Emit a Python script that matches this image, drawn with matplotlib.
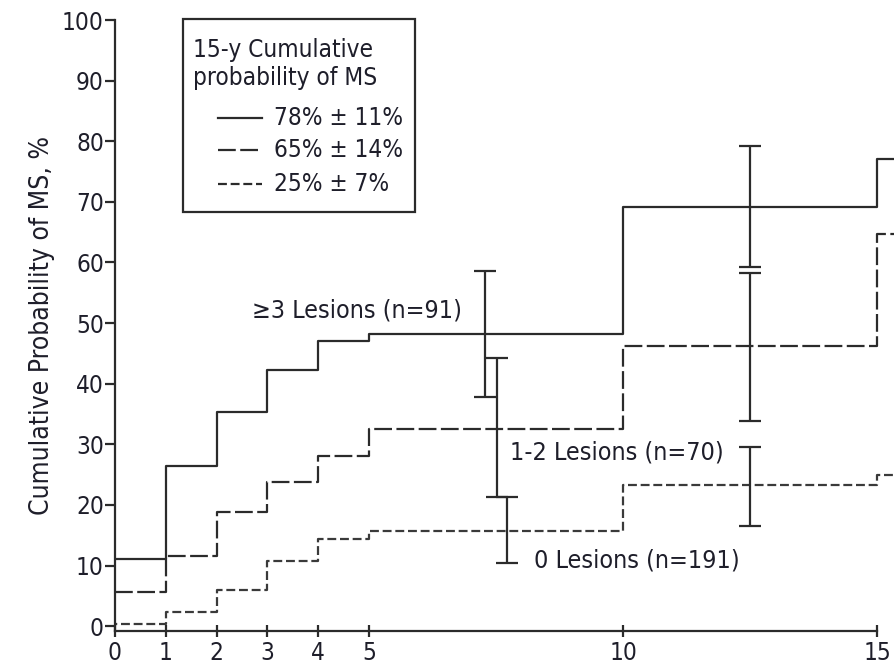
import numpy as np
import matplotlib
matplotlib.use("Agg")
import matplotlib.pyplot as plt
from matplotlib.patches import Rectangle

plt.rcParams['font.family'] = ['DejaVu Sans']
plt.rcParams['font.stretch'] = 'condensed'

# step curves (years, cumulative probability %)
years = [0, 1, 2, 3, 4, 5, 10, 15, 15.4]
les3 = [11.0, 26.5, 35.4, 42.2, 47.1, 48.2, 69.1, 77.1, 77.1]
les12 = [5.6, 11.6, 18.9, 23.7, 28.1, 32.5, 46.3, 64.7, 64.7]
les0 = [0.3, 2.4, 5.9, 10.7, 14.3, 15.7, 23.3, 24.9, 24.9]

# confidence bars
err3_x = [7.28, 12.5]
err3_y = [48.2, 69.1]
err3_lo = [37.8, 59.3]
err3_hi = [58.6, 79.2]

err12_x = [7.51, 12.5]
err12_y = [32.5, 46.3]
err12_lo = [21.3, 33.9]
err12_hi = [44.2, 58.2]

err0_x = [7.71, 12.5]
err0_y = [15.7, 23.3]
err0_lo = [10.5, 16.5]
err0_hi = [21.3, 29.6]

legend_title = ["15-y Cumulative", "probability of MS"]
legend_labels = ["78% ± 11%", "65% ± 14%", "25% ± 7%"]
group_labels = ["≥3 Lesions (n=91)", "1-2 Lesions (n=70)", "0 Lesions (n=191)"]

col = "#2b2b2b"
txtcol = "#1e1e2a"
fs = 17.5
lw = 1.6
styles = ['-', (0, (8, 2)), (0, (4, 1.7))]

fig = plt.figure(figsize=(8.95, 6.67), dpi=100)
ax = fig.add_axes([115 / 895, 36 / 667, 780 / 895, 611 / 667])

ax.step(years, les3, where='post', color=col, lw=lw, ls=styles[0])
ax.step(years, les12, where='post', color=col, lw=lw, ls=styles[1])
ax.step(years, les0, where='post', color="#3a3a3a", lw=lw, ls=(3, (4, 1.7)))

for ex, ey, lo, hi in [(err3_x, err3_y, err3_lo, err3_hi),
                       (err12_x, err12_y, err12_lo, err12_hi),
                       (err0_x, err0_y, err0_lo, err0_hi)]:
    ey = np.array(ey)
    yerr = [ey - np.array(lo), np.array(hi) - ey]
    ax.errorbar(ex, ey, yerr=yerr, fmt='none', ecolor=col, elinewidth=lw,
                capsize=8, capthick=lw)

ax.set_xlim(0, 15.35)
ax.set_ylim(-0.8, 100)
ax.spines['top'].set_visible(False)
ax.spines['right'].set_visible(False)
ax.spines['bottom'].set_bounds(0, 15)
ax.spines['left'].set_linewidth(lw)
ax.spines['bottom'].set_linewidth(lw)
ax.spines['left'].set_color(col)
ax.spines['bottom'].set_color(col)

ax.set_xticks([0, 1, 2, 3, 4, 5, 10, 15])
ax.set_yticks(np.arange(0, 101, 10))
ax.tick_params(axis='x', direction='inout', length=8, width=lw, colors=col,
               labelsize=fs, labelcolor=txtcol, pad=3)
ax.tick_params(axis='y', direction='out', length=7, width=lw, colors=col,
               labelsize=fs, labelcolor=txtcol, pad=1)
ax.set_ylabel("Cumulative Probability of MS, %", fontsize=19, color=txtcol, labelpad=5)

# legend box
ax.add_patch(Rectangle((1.33, 68.4), 4.57, 31.7, fill=False, lw=lw, ec=col, clip_on=False))
ax.text(1.53, 95.0, legend_title[0], fontsize=fs, color=txtcol, va='center', ha='left')
ax.text(1.53, 90.4, legend_title[1], fontsize=fs, color=txtcol, va='center', ha='left')
for i, (lab, y) in enumerate(zip(legend_labels, [83.8, 78.5, 73.0])):
    ax.plot([2.03, 2.89], [y, y], color=col, lw=lw, ls=styles[i])
    ax.text(3.12, y, lab, fontsize=fs, color=txtcol, va='center', ha='left')

ax.text(2.69, 52.1, group_labels[0], fontsize=18, color=txtcol, va='center', ha='left')
ax.text(7.78, 28.6, group_labels[1], fontsize=18, color=txtcol, va='center', ha='left')
ax.text(8.25, 10.9, group_labels[2], fontsize=18, color=txtcol, va='center', ha='left')

fig.savefig("out.png", dpi=100)
